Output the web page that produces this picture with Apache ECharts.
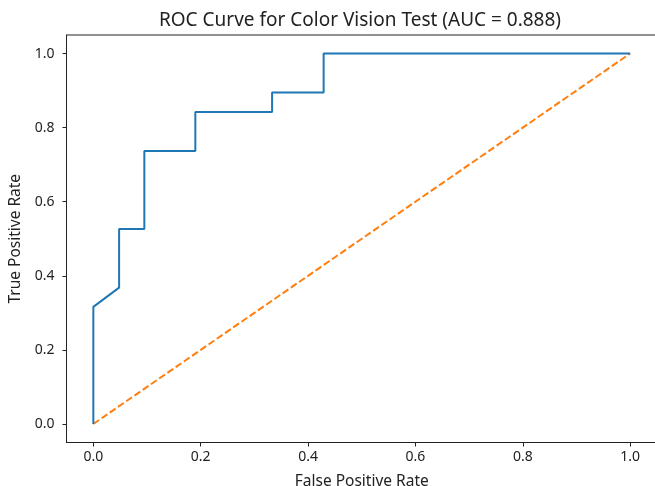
<!DOCTYPE html>
<html>
<head>
  <meta charset="UTF-8">
  <title>ROC Curve</title>
  <script src="https://cdn.jsdelivr.net/npm/echarts@6/dist/echarts.min.js"></script>
  <style>
    html, body { margin: 0; padding: 0; background: #fff; }
    #chart { width: 655px; height: 486px; }
  </style>
</head>
<body>
<div id="chart"></div>
<script>
  // ROC points
  var fpr = [0, 0, 0.048, 0.048, 0.095, 0.095, 0.190, 0.190, 0.333, 0.333, 0.429, 0.429, 1.0];
  var tpr = [0, 0.316, 0.368, 0.526, 0.526, 0.737, 0.737, 0.842, 0.842, 0.895, 0.895, 1.0, 1.0];
  var chanceX = [0, 1];
  var chanceY = [0, 1];
  var tickValues = [0, 0.2, 0.4, 0.6, 0.8, 1.0];

  var rocData = fpr.map(function (x, i) { return [x, tpr[i]]; });
  var chanceData = chanceX.map(function (x, i) { return [x, chanceY[i]]; });

  var font = 'Noto Sans';
  var myChart = echarts.init(document.getElementById('chart'));

  function axisBase(margin) {
    return {
      type: 'value',
      min: -0.05,
      max: 1.05,
      nameLocation: 'middle',
      nameTextStyle: { fontFamily: font, fontSize: 15.5, color: '#222' },
      axisLine: { show: true, onZero: false, lineStyle: { color: '#222', width: 1 } },
      axisTick: { show: true, length: 4, lineStyle: { color: '#222' }, customValues: tickValues },
      axisLabel: {
        fontFamily: font, fontSize: 14, color: '#222', margin: margin,
        customValues: tickValues,
        formatter: function (v) { return v.toFixed(1); }
      },
      splitLine: { show: false }
    };
  }

  var option = {
    animation: false,
    backgroundColor: '#fff',
    title: {
      text: 'ROC Curve for Color Vision Test (AUC = 0.888)',
      left: 355,
      textAlign: 'center',
      top: 6,
      textStyle: { fontFamily: font, fontSize: 19, fontWeight: 'normal', color: '#222' }
    },
    grid: {
      left: 66.5, right: -2, top: 35, bottom: 43.5,
      outerBoundsMode: 'none',
      containLabel: false,
      show: true, borderColor: '#222', borderWidth: 1, backgroundColor: 'transparent'
    },
    xAxis: Object.assign(axisBase(8), { name: 'False Positive Rate', nameGap: 31 }),
    yAxis: Object.assign(axisBase(12), { name: 'True Positive Rate', nameGap: 39 }),
    series: [
      {
        type: 'line',
        data: rocData,
        showSymbol: false,
        lineStyle: { color: '#1f77b4', width: 2 },
        itemStyle: { color: '#1f77b4' },
        z: 3
      },
      {
        type: 'line',
        data: chanceData,
        showSymbol: false,
        lineStyle: { color: '#ff7f0e', width: 2, type: [7, 3] },
        itemStyle: { color: '#ff7f0e' },
        z: 2
      }
    ]
  };
  myChart.setOption(option);
</script>
</body>
</html>
